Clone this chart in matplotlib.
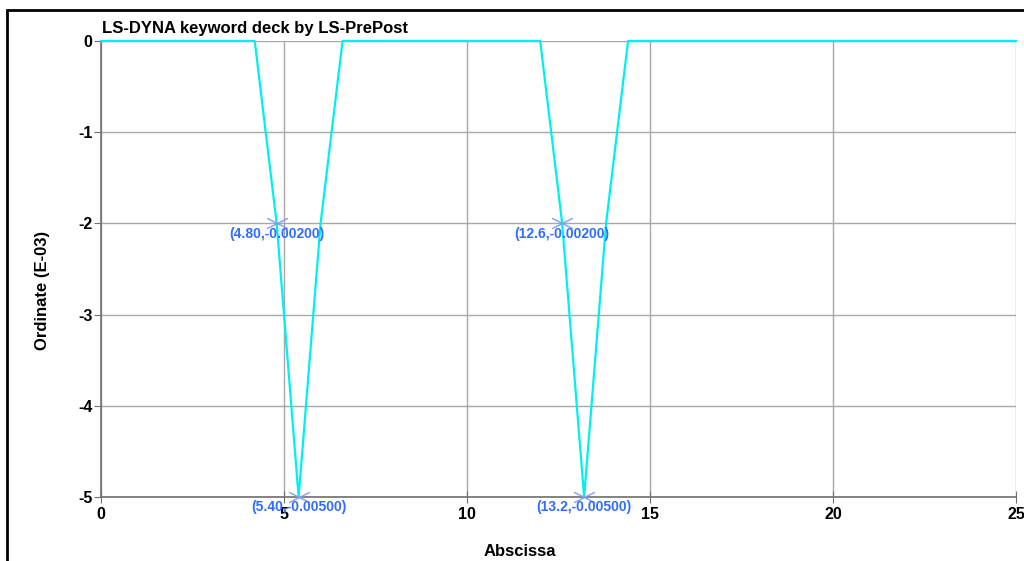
import matplotlib
matplotlib.use("Agg")
import matplotlib.pyplot as plt
from matplotlib.path import Path
from matplotlib.patches import Rectangle
from matplotlib.ticker import FuncFormatter

plt.rcParams["font.family"] = ["Liberation Sans", "DejaVu Sans"]
plt.rcParams["font.weight"] = "bold"

# curve data
abscissa = [0.0, 4.2, 4.8, 5.4, 6.0, 6.6, 12.0, 12.6, 13.2, 13.8, 14.4, 25.0]
ordinate = [0.0, 0.0, -0.002, -0.005, -0.002, 0.0, 0.0, -0.002, -0.005, -0.002, 0.0, 0.0]

# labelled points
mark_x = [4.8, 5.4, 12.6, 13.2]
mark_y = [-0.002, -0.005, -0.002, -0.005]
mark_text = ["(4.80,-0.00200)", "(5.40,-0.00500)", "(12.6,-0.00200)", "(13.2,-0.00500)"]

x_ticks = [0, 5, 10, 15, 20, 25]
y_ticks = [0, -0.001, -0.002, -0.003, -0.004, -0.005]


def main():
    fig = plt.figure(figsize=(10.24, 5.61), dpi=100)
    ax = fig.add_axes([101 / 1024, 1 - 497 / 561, 915 / 1024, 456 / 561])

    ax.plot(abscissa, ordinate, color="#00f0f0", lw=1.6, zorder=3, clip_on=False)

    # flattened x markers on the labelled points
    cross = Path([(-1, -0.5), (1, 0.5), (-1, 0.5), (1, -0.5)],
                 [Path.MOVETO, Path.LINETO, Path.MOVETO, Path.LINETO])
    ax.plot(mark_x, mark_y, ls="none", marker=cross, ms=15, mew=1.0,
            mec="#7f9fef", mfc="none", zorder=4, clip_on=False)
    for x, y, t in zip(mark_x, mark_y, mark_text):
        ax.annotate(t, (x, y), xytext=(0, -7.5), textcoords="offset points",
                    ha="center", va="center", color="#2f6cff", fontsize=10,
                    fontweight="bold", zorder=5, annotation_clip=False)

    ax.set_xlim(0, 25)
    ax.set_ylim(-0.005, 0)
    ax.set_xticks(x_ticks)
    ax.set_yticks(y_ticks)
    ax.yaxis.set_major_formatter(FuncFormatter(lambda v, p: f"{v * 1000:.0f}" if abs(v) > 1e-9 else "0"))
    ax.grid(True, color="#a8a8a8", lw=1.0)
    ax.set_axisbelow(True)

    for side in ["top", "right"]:
        ax.spines[side].set_visible(False)
    for side in ["left", "bottom"]:
        ax.spines[side].set_color("#707070")
        ax.spines[side].set_linewidth(1.2)

    ax.tick_params(axis="y", direction="out", length=5, color="#707070",
                   labelsize=11.5, pad=1)
    ax.tick_params(axis="x", direction="inout", length=9, color="#707070",
                   labelsize=11.5, pad=2.5)

    fig.text(102 / 1024, 1 - 28 / 561, "LS-DYNA keyword deck by LS-PrePost",
             fontsize=12, fontweight="bold", va="center", ha="left")
    fig.text(520 / 1024, 1 - 551 / 561, "Abscissa", fontsize=12,
             fontweight="bold", ha="center", va="center")
    fig.text(42 / 1024, 1 - 290 / 561, "Ordinate (E-03)", fontsize=12,
             fontweight="bold", ha="center", va="center", rotation=90)

    frame = Rectangle((7 / 1024, -0.2), 1.2, 1.2 - 10 / 561, transform=fig.transFigure,
                      fill=False, ec="black", lw=2.0)
    fig.patches.append(frame)

    fig.savefig("out.png", dpi=100)


if __name__ == "__main__":
    main()
